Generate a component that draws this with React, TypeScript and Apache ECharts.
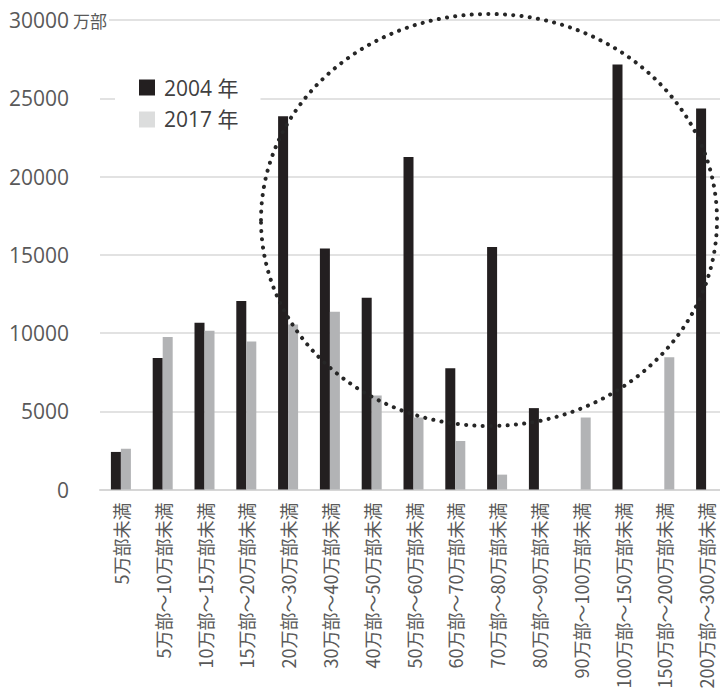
import React, { useEffect, useRef } from "react";
import * as echarts from "echarts";

// Circulation-size bands (rows of the x axis)
const categories = [
  "5万部未満",
  "5万部～10万部未満",
  "10万部～15万部未満",
  "15万部～20万部未満",
  "20万部～30万部未満",
  "30万部～40万部未満",
  "40万部～50万部未満",
  "50万部～60万部未満",
  "60万部～70万部未満",
  "70万部～80万部未満",
  "80万部～90万部未満",
  "90万部～100万部未満",
  "100万部～150万部未満",
  "150万部～200万部未満",
  "200万部～300万部未満",
];

const seriesNames = ["2004 年", "2017 年"];

// Total copies (万部) per band
const copies2004 = [2400, 8400, 10650, 12050, 23850, 15400, 12250, 21250, 7750, 15500, 5200, null, 27150, null, 24350];
const copies2017 = [2600, 9750, 10150, 9450, 10550, 11350, 6000, 4600, 3100, 950, null, 4600, null, 8450, null];

const yMin = 0;
const yMax = 30000;
const yStep = 5000;
const yUnit = "万部";

const NUM_FONT = "'Open Sans', 'Noto Sans CJK JP', sans-serif";
const JP_FONT = "'Noto Sans CJK JP', 'Open Sans', sans-serif";

export default function App() {
  const ref = useRef<HTMLDivElement>(null);

  useEffect(() => {
    if (!ref.current) return;
    const chart = echarts.init(ref.current, undefined, { renderer: "svg" });

    chart.setOption({
      animation: false,
      backgroundColor: "#ffffff",
      // the plot runs a little past the visible right edge
      grid: { left: 100, right: -7, top: 20, bottom: 199.5, outerBoundsMode: "none" },
      legend: {
        orient: "vertical",
        left: 115,
        top: 68,
        padding: [9, 22, 9, 24],
        backgroundColor: "#ffffff",
        itemWidth: 16,
        itemHeight: 16,
        itemGap: 11,
        icon: "rect",
        textStyle: {
          fontFamily: NUM_FONT,
          fontSize: 21,
          color: "#404040",
          padding: [0, 0, 0, 4],
        },
        data: [
          { name: seriesNames[0], itemStyle: { color: "#231f20" } },
          { name: seriesNames[1], itemStyle: { color: "#dcdddd" } },
        ],
      },
      xAxis: {
        type: "category",
        data: categories,
        axisLine: { show: true, lineStyle: { color: "#d6d6d6", width: 2 } },
        axisTick: { show: false },
        axisLabel: {
          interval: 0,
          rotate: 90,
          margin: 13,
          fontFamily: JP_FONT,
          fontSize: 18,
          color: "#595959",
        },
      },
      yAxis: {
        type: "value",
        min: yMin,
        max: yMax,
        interval: yStep,
        axisLine: { show: false },
        axisTick: { show: false },
        splitLine: { lineStyle: { color: "#d9d9d9", width: 1.5 } },
        axisLabel: {
          margin: 31,
          fontFamily: NUM_FONT,
          fontSize: 21,
          color: "#595959",
          formatter: (v: number) => String(v),
        },
      },
      series: [
        {
          name: seriesNames[0],
          type: "bar",
          data: copies2004,
          barWidth: 10,
          barGap: "0%",
          itemStyle: { color: "#231f20" },
        },
        {
          name: seriesNames[1],
          type: "bar",
          data: copies2017,
          barWidth: 10,
          barGap: "0%",
          itemStyle: { color: "#b2b3b5" },
        },
      ],
    });

    // Unit next to the top tick, and the dotted ring highlighting the large bands
    const topY = chart.convertToPixel({ yAxisIndex: 0 }, yMax) as number;
    chart.setOption({
      graphic: [
        {
          type: "text",
          x: 72,
          y: topY,
          z: 50,
          style: {
            text: yUnit,
            fontFamily: JP_FONT,
            fontSize: 17,
            fill: "#595959",
            verticalAlign: "middle",
            backgroundColor: "#ffffff",
            padding: [2, 2, 2, 1],
          },
        },
        {
          type: "ellipse",
          z: 100,
          shape: { cx: 489, cy: 220, rx: 228, ry: 206 },
          style: {
            fill: "none",
            stroke: "#262626",
            lineWidth: 4,
            lineDash: [0.1, 8.2],
            lineCap: "round",
          },
        },
      ],
    });

    return () => chart.dispose();
  }, []);

  return (
    <div
      ref={ref}
      style={{ position: "absolute", left: 0, top: 0, width: 720, height: 689 }}
    />
  );
}
